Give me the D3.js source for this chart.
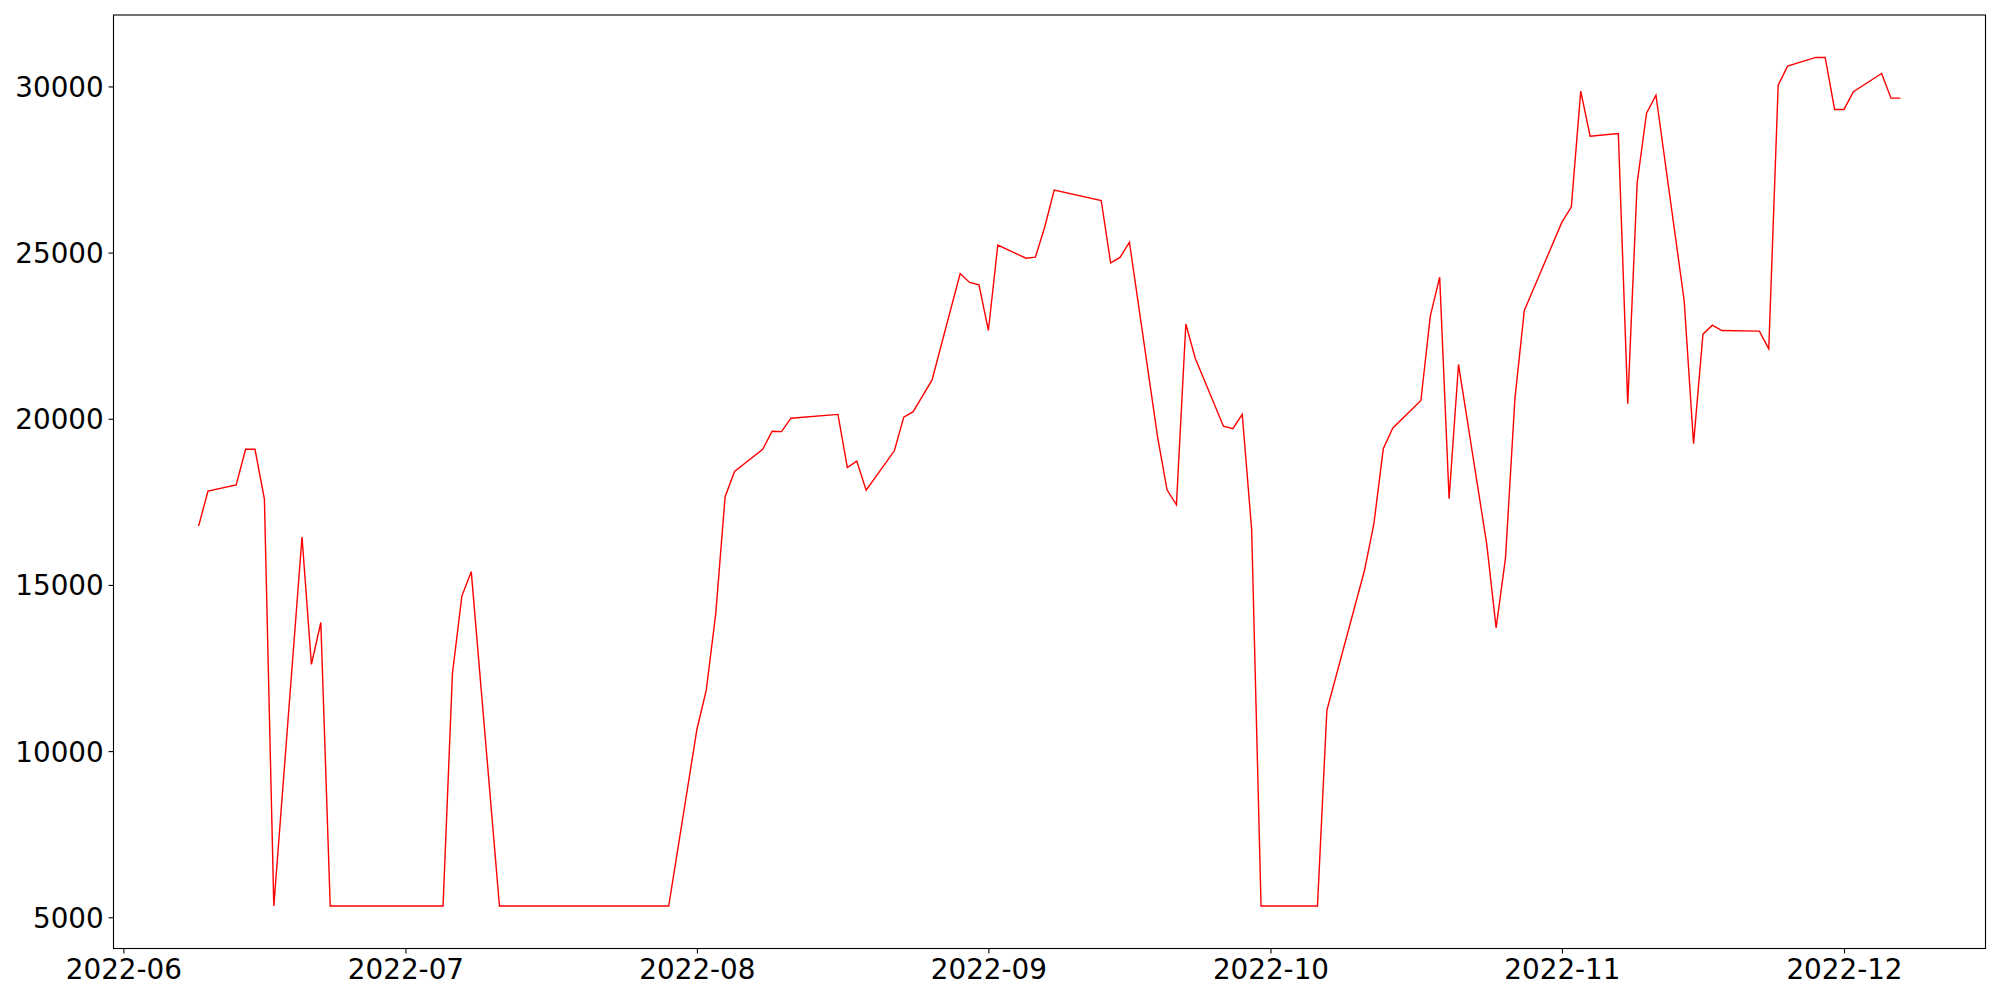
<!DOCTYPE html>
<html>
<head>
<meta charset="utf-8">
<script src="https://cdn.jsdelivr.net/npm/d3@7"></script>
<style>
    body { margin: 0; background: #fff; }
    .tick text { font-family: "DejaVu Sans", sans-serif; font-size: 27.8px; fill: #000; }
    .tick line { stroke: #000; stroke-width: 1.1; }
    .domain { display: none; }
</style>
</head>
<body>
<div id="chart"></div>
<script>
var dates = [
    '2022-06-09', '2022-06-10', '2022-06-13', '2022-06-14', '2022-06-15', '2022-06-16', '2022-06-17',
    '2022-06-20', '2022-06-21', '2022-06-22', '2022-06-23', '2022-07-05', '2022-07-06', '2022-07-07',
    '2022-07-08', '2022-07-11', '2022-07-29', '2022-08-01', '2022-08-02', '2022-08-03', '2022-08-04',
    '2022-08-05', '2022-08-08', '2022-08-09', '2022-08-10', '2022-08-11', '2022-08-16', '2022-08-17',
    '2022-08-18', '2022-08-19', '2022-08-22', '2022-08-23', '2022-08-24', '2022-08-26', '2022-08-29',
    '2022-08-30', '2022-08-31', '2022-09-01', '2022-09-02', '2022-09-05', '2022-09-06', '2022-09-07',
    '2022-09-08', '2022-09-13', '2022-09-14', '2022-09-15', '2022-09-16', '2022-09-19', '2022-09-20',
    '2022-09-21', '2022-09-22', '2022-09-23', '2022-09-26', '2022-09-27', '2022-09-28', '2022-09-29',
    '2022-09-30', '2022-10-06', '2022-10-07', '2022-10-11', '2022-10-12', '2022-10-13', '2022-10-14',
    '2022-10-17', '2022-10-18', '2022-10-19', '2022-10-20', '2022-10-21', '2022-10-24', '2022-10-25',
    '2022-10-26', '2022-10-27', '2022-10-28', '2022-11-01', '2022-11-02', '2022-11-03', '2022-11-04',
    '2022-11-07', '2022-11-08', '2022-11-09', '2022-11-10', '2022-11-11', '2022-11-14', '2022-11-15',
    '2022-11-16', '2022-11-17', '2022-11-18', '2022-11-22', '2022-11-23', '2022-11-24', '2022-11-25',
    '2022-11-28', '2022-11-29', '2022-11-30', '2022-12-01', '2022-12-02', '2022-12-05', '2022-12-06',
    '2022-12-07'
];

var values = [
    16770, 17826, 18007, 19082, 19082, 17583, 5337,
    16442, 12611, 13869, 5337, 5337, 12340, 14665,
    15400, 5337, 5337, 10650, 11840, 14131, 17655,
    18416, 19084, 19626, 19614, 20017, 20132, 18531,
    18726, 17851, 19036, 20050, 20213, 21160, 24372,
    24101, 24032, 22657, 25224, 24833, 24863, 25778,
    26879, 26569, 24694, 24854, 25314, 19446, 17862,
    17411, 22852, 21820, 19777, 19705, 20135, 16668,
    5337, 5337, 11227, 15434, 16839, 19096, 19717,
    20550, 23087, 24261, 17592, 21634, 16237, 13709,
    15816, 20601, 23258, 25916, 26368, 29858, 28504,
    28585, 20451, 27090, 29196, 29738, 23560, 19247,
    22545, 22816, 22656, 22636, 22106, 30040, 30611,
    30873, 30873, 29308, 29308, 29840, 30391, 29648,
    29648
];

var yTicks = [5000, 10000, 15000, 20000, 25000, 30000];
var xTicks = ['2022-06-01', '2022-07-01', '2022-08-01', '2022-09-01', '2022-10-01', '2022-11-01', '2022-12-01'];

var width = 2000,
    height = 1000,
    margin = {top: 15, right: 14.5, bottom: 51.5, left: 113.5};

var parse = d3.utcParse('%Y-%m-%d');

var data = dates.map((d, i) => ({date: parse(d), value: values[i]}));

var svg = d3.select('#chart')
    .append('svg')
    .attr('width', width)
    .attr('height', height);

// matplotlib style 5% padding on both axes
var xExt = d3.extent(data, d => d.date.getTime()),
    xPad = (xExt[1] - xExt[0]) * 0.05;
var yExt = d3.extent(data, d => d.value),
    yPad = (yExt[1] - yExt[0]) * 0.05;

var x = d3.scaleUtc()
    .domain([new Date(xExt[0] - xPad), new Date(xExt[1] + xPad)])
    .range([margin.left, width - margin.right]);

var y = d3.scaleLinear()
    .domain([yExt[0] - yPad, yExt[1] + yPad])
    .range([height - margin.bottom, margin.top]);

var line = d3.line()
    .x(d => x(d.date))
    .y(d => y(d.value));

svg.append('path')
    .datum(data)
    .attr('fill', 'none')
    .attr('stroke', '#ff0000')
    .attr('stroke-width', 1.4)
    .attr('stroke-linejoin', 'miter')
    .attr('d', line);

var xAxis = svg.append('g')
    .attr('transform', 'translate(0,' + (height - margin.bottom) + ')')
    .call(d3.axisBottom(x)
        .tickValues(xTicks.map(parse))
        .tickFormat(d3.utcFormat('%Y-%m'))
        .tickSizeOuter(0)
        .tickSize(4.9)
        .tickPadding(4.9));

xAxis.selectAll('.tick text')
    .attr('y', 30.5)
    .attr('dy', 0);

var yAxis = svg.append('g')
    .attr('transform', 'translate(' + margin.left + ',0)')
    .call(d3.axisLeft(y)
        .tickValues(yTicks)
        .tickFormat(d3.format('d'))
        .tickSizeOuter(0)
        .tickSize(4.9)
        .tickPadding(4.9));

yAxis.selectAll('.tick text')
    .attr('dy', '0.36em');

svg.append('rect')
    .attr('x', margin.left)
    .attr('y', margin.top)
    .attr('width', width - margin.left - margin.right)
    .attr('height', height - margin.top - margin.bottom)
    .attr('fill', 'none')
    .attr('stroke', '#000')
    .attr('stroke-width', 1.1);
</script>
</body>
</html>
